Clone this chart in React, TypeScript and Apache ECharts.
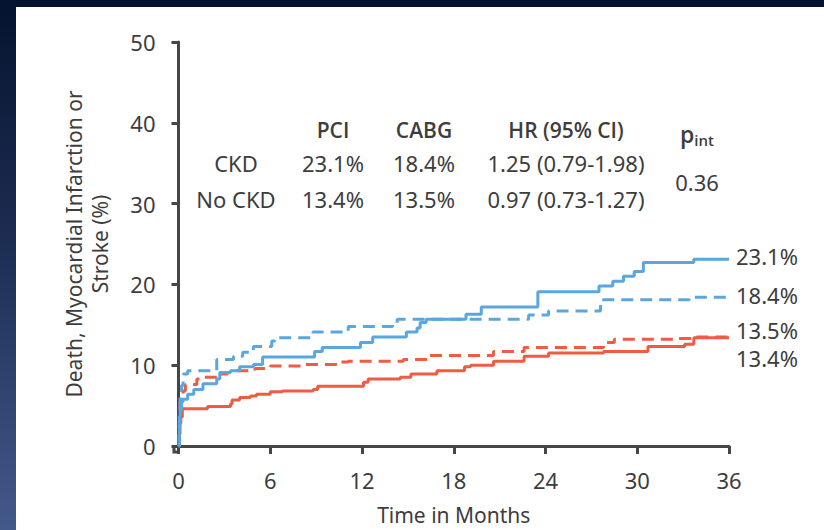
import React, { useEffect, useRef } from "react";
import * as echarts from "echarts";

// Cumulative event rate (%) by month: [month, percent]
const pciCkd: [number, number][] = [
  [0, 0], [0.05, 2.5], [0.1, 4.5], [0.2, 5.8], [0.6, 6.4], [1.0, 7.0], [1.6, 7.7],
  [2.5, 8.3], [2.7, 9.1], [3.4, 9.3], [4.0, 9.8], [4.9, 10.1], [5.5, 11.0],
  [8.9, 11.7], [9.4, 12.2], [11.9, 12.8], [12.7, 13.5], [14.9, 14.1], [15.6, 14.6],
  [15.8, 15.3], [16.2, 15.7], [18.8, 16.3], [19.8, 17.2], [23.5, 19.1], [27.5, 19.8],
  [28.4, 20.4], [29.1, 21.0], [29.8, 21.6], [30.4, 22.7], [33.7, 23.1], [36, 23.1],
];
const cabgCkd: [number, number][] = [
  [0, 0], [0.05, 4.0], [0.1, 6.5], [0.2, 7.5], [0.3, 8.9], [0.6, 9.3], [2.5, 10.7],
  [3.6, 11.1], [4.2, 11.6], [4.9, 12.3], [6.1, 13.0], [6.3, 13.4], [8.8, 14.1],
  [11.1, 14.8], [14.0, 15.1], [14.3, 15.7], [22.9, 16.2], [24.2, 16.7], [27.6, 18.1],
  [33.4, 18.4], [36, 18.4],
];
const pciNoCkd: [number, number][] = [
  [0, 0], [0.05, 1.5], [0.1, 2.8], [0.15, 3.6], [0.25, 4.6], [1.9, 4.9], [3.4, 5.2],
  [3.5, 5.7], [4.0, 6.0], [4.7, 6.2], [5.1, 6.4], [6.0, 6.7], [6.8, 6.8], [8.8, 7.0],
  [9.1, 7.4], [12.1, 7.9], [12.4, 8.3], [14.5, 8.5], [15.2, 8.9], [16.9, 9.3],
  [18.7, 9.8], [19.1, 10.0], [20.6, 10.5], [22.6, 11.1], [24.2, 11.5], [27.8, 11.7],
  [30.7, 12.3], [33.1, 12.6], [33.7, 13.4], [36, 13.4],
];
const cabgNoCkd: [number, number][] = [
  [0, 0], [0.05, 3.0], [0.1, 5.5], [0.3, 6.8], [0.45, 7.6], [1.2, 8.3], [1.6, 8.5],
  [2.7, 8.9], [3.2, 9.1], [3.8, 9.3], [5.0, 9.6], [6.0, 9.9], [8.2, 10.1],
  [10.4, 10.4], [11.1, 10.5], [14.7, 10.7], [16.3, 11.2], [20.6, 11.7], [22.6, 12.2],
  [27.8, 12.8], [28.5, 13.2], [32.4, 13.3], [33.7, 13.5], [36, 13.5],
];

const monthTicks = [0, 6, 12, 18, 24, 30, 36];
const tableHeader = ["PCI", "CABG", "HR (95% CI)"];
const tableRows = [
  { group: "CKD", pci: "23.1%", cabg: "18.4%", hr: "1.25 (0.79-1.98)" },
  { group: "No CKD", pci: "13.4%", cabg: "13.5%", hr: "0.97 (0.73-1.27)" },
];
const pInteraction = "0.36";

const BLUE = "#5aa7dd";
const RED = "#f05b43";
const AXIS = "#464646";
const TEXT = "#3d3d3d";
const FONT = "'Noto Sans', 'Open Sans', sans-serif";
const SEMI = "'Open Sans', 'Noto Sans', sans-serif";

export default function App() {
  const ref = useRef<HTMLDivElement>(null);

  useEffect(() => {
    if (!ref.current) return;
    const chart = echarts.init(ref.current, undefined, { renderer: "svg" });

    const line = (
      name: string,
      data: [number, number][],
      color: string,
      dashed: boolean,
      labelDy: number
    ) => ({
      name,
      type: "line",
      data,
      step: "end",
      symbol: "none",
      color,
      lineStyle: { color, width: 3, type: dashed ? [12, 7] : "solid", cap: "butt" },
      endLabel: {
        show: true,
        formatter: (p: any) => `${p.value[1].toFixed(1)}%`,
        distance: 7,
        offset: [0, labelDy],
        color: TEXT,
        fontSize: 22,
        fontFamily: FONT,
      },
      emphasis: { disabled: true },
    });

    const cols = [333, 424, 566];
    const tableText: any[] = [];
    tableHeader.forEach((h, i) =>
      tableText.push({
        type: "text",
        x: cols[i],
        y: 130,
        style: {
          text: h,
          fontSize: 21,
          fontWeight: 600,
          fontFamily: SEMI,
          fill: TEXT,
          align: "center",
          verticalAlign: "middle",
        },
      })
    );
    tableRows.forEach((r, j) => {
      const y = 163 + j * 36;
      [r.group, r.pci, r.cabg, r.hr].forEach((t, i) =>
        tableText.push({
          type: "text",
          x: i === 0 ? 236 : cols[i - 1],
          y,
          style: {
            text: t,
            fontSize: 22,
            fontFamily: FONT,
            fill: TEXT,
            align: "center",
            verticalAlign: "middle",
          },
        })
      );
    });
    tableText.push({
      type: "text",
      x: 697,
      y: 134,
      style: {
        text: "{p|p}{s|int}",
        fill: TEXT,
        align: "center",
        verticalAlign: "middle",
        rich: {
          p: { fontSize: 23, fontWeight: 600, fontFamily: SEMI, fill: TEXT },
          s: {
            fontSize: 15,
            fontWeight: 600,
            fontFamily: SEMI,
            fill: TEXT,
            padding: [12, 0, 0, 0],
          },
        },
      },
    });
    tableText.push({
      type: "text",
      x: 697,
      y: 182,
      style: {
        text: pInteraction,
        fontSize: 22,
        fontFamily: FONT,
        fill: TEXT,
        align: "center",
        verticalAlign: "middle",
      },
    });

    chart.setOption({
      animation: false,
      textStyle: { fontFamily: FONT },
      grid: { left: 178.5, right: 95, top: 42, bottom: 83 },
      xAxis: {
        type: "value",
        min: 0,
        max: 36,
        interval: 6,
        offset: 5,
        name: "Time in Months",
        nameLocation: "middle",
        nameGap: 53,
        nameTextStyle: { fontSize: 21, color: TEXT, fontFamily: FONT },
        axisLine: { show: true, lineStyle: { color: AXIS, width: 3 } },
        axisTick: { show: true, length: 8, lineStyle: { color: AXIS, width: 3 } },
        axisLabel: {
          margin: 18,
          fontSize: 22,
          color: TEXT,
          fontFamily: FONT,
          formatter: (v: number) => (monthTicks.includes(v) ? String(v) : ""),
        },
        splitLine: { show: false },
      },
      yAxis: {
        type: "value",
        min: 0,
        max: 50,
        interval: 10,
        offset: 4,
        name: "Death, Myocardial Infarction or\nStroke (%)",
        nameLocation: "middle",
        nameRotate: 90,
        nameGap: 62,
        nameTextStyle: {
          fontSize: 21,
          lineHeight: 26,
          color: TEXT,
          fontFamily: FONT,
          align: "center",
        },
        axisLine: { show: true, lineStyle: { color: AXIS, width: 3 } },
        axisTick: { show: true, length: 7, lineStyle: { color: AXIS, width: 3 } },
        axisLabel: { margin: 19, fontSize: 22, color: TEXT, fontFamily: FONT },
        splitLine: { show: false },
      },
      series: [
        line("PCI, No CKD", pciNoCkd, RED, false, 20),
        line("CABG, No CKD", cabgNoCkd, RED, true, -7),
        line("PCI, CKD", pciCkd, BLUE, false, -3),
        line("CABG, CKD", cabgCkd, BLUE, true, -2),
      ],
      graphic: [
        {
          type: "polyline",
          silent: true,
          shape: { points: [[174, 445], [174, 452], [180, 452]] },
          style: { stroke: AXIS, lineWidth: 3, fill: "none", lineJoin: "miter" },
        },
        ...tableText,
      ],
    });

    return () => chart.dispose();
  }, []);

  return (
    <div
      style={{
        position: "fixed",
        left: 0,
        top: 0,
        width: 824,
        height: 530,
        background: "linear-gradient(to bottom, #04142f 0%, #1c2d52 45%, #43598a 100%)",
      }}
    >
      <div
        style={{
          position: "absolute",
          left: 16,
          top: 7,
          right: 0,
          bottom: 0,
          background: "#ffffff",
        }}
      />
      <div ref={ref} style={{ position: "absolute", left: 0, top: 0, width: 824, height: 530 }} />
    </div>
  );
}
